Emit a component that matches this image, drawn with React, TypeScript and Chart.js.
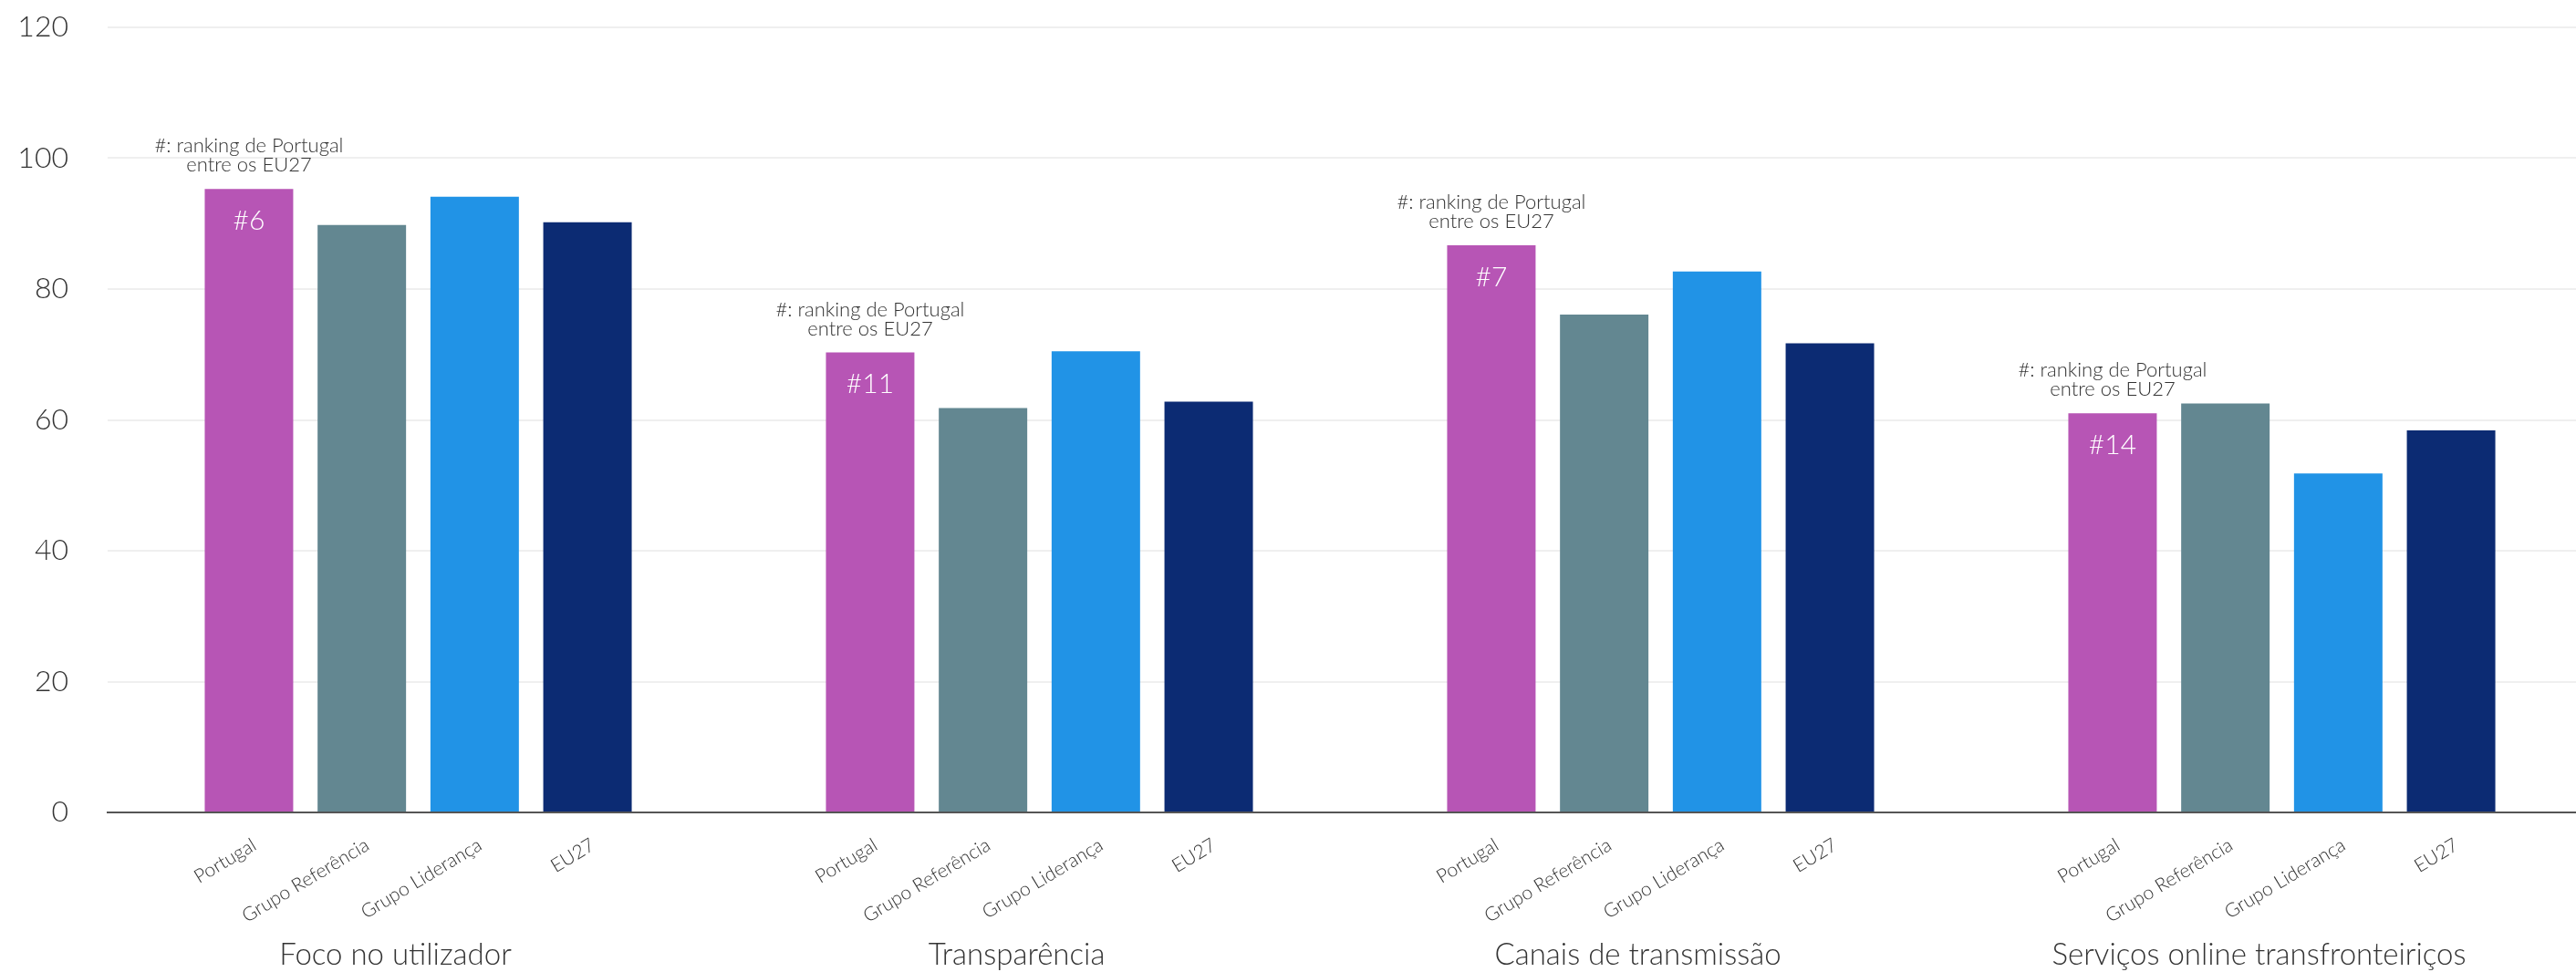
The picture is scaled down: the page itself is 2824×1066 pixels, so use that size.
import React, { useEffect, useRef } from "react";
import { Chart, registerables } from "chart.js";

Chart.register(...registerables);

const categories = [
  "Foco no utilizador",
  "Transparência",
  "Canais de transmissão",
  "Serviços online transfronteiriços",
];
const seriesNames = ["Portugal", "Grupo Referência", "Grupo Liderança", "EU27"];
const portugal = [95.3, 70.3, 86.7, 61.0];
const grupoReferencia = [89.8, 61.8, 76.1, 62.5];
const grupoLideranca = [94.1, 70.5, 82.7, 51.8];
const eu27 = [90.2, 62.8, 71.7, 58.4];
const rankings = ["#6", "#11", "#7", "#14"];
const annotationLines = ["#: ranking de Portugal", "entre os EU27"];
const yMin = 0;
const yMax = 120;
const yStep = 20;

const colors = ["#B755B5", "#638791", "#2193E6", "#0C2B73"];
const FONT = "Lato, 'Open Sans', sans-serif";

const labelsPlugin = {
  id: "customLabels",
  afterDatasetsDraw(chart: any) {
    const { ctx } = chart;
    const xScale = chart.scales.x;
    ctx.save();
    // rotated series labels under each bar
    chart.data.datasets.forEach((ds: any, di: number) => {
      const meta = chart.getDatasetMeta(di);
      meta.data.forEach((bar: any) => {
        ctx.save();
        ctx.translate(bar.x + 6, chart.chartArea.bottom + 34);
        ctx.rotate((-31 * Math.PI) / 180);
        ctx.font = `300 21px ${FONT}`;
        ctx.fillStyle = "#333";
        ctx.textAlign = "right";
        ctx.textBaseline = "middle";
        ctx.fillText(ds.label, 0, 0);
        ctx.restore();
      });
    });
    // ranking + annotation on Portugal bars
    const meta0 = chart.getDatasetMeta(0);
    meta0.data.forEach((bar: any, i: number) => {
      ctx.font = `300 30px ${FONT}`;
      ctx.fillStyle = "#ffffff";
      ctx.textAlign = "center";
      ctx.textBaseline = "middle";
      ctx.fillText(rankings[i], bar.x, bar.y + 35);
      ctx.font = `300 22px ${FONT}`;
      ctx.fillStyle = "#333";
      ctx.textBaseline = "alphabetic";
      ctx.fillText(annotationLines[0], bar.x, bar.y - 40);
      ctx.fillText(annotationLines[1], bar.x, bar.y - 19);
    });
    // group labels
    categories.forEach((c, i) => {
      const x = xScale.getPixelForValue(i) - 25;
      ctx.font = `300 33px ${FONT}`;
      ctx.fillStyle = "#333";
      ctx.textAlign = "center";
      ctx.textBaseline = "middle";
      ctx.fillText(c, x, chart.chartArea.bottom + 156);
    });
    ctx.restore();
  },
};

export default function App() {
  const canvasRef = useRef<HTMLCanvasElement | null>(null);

  useEffect(() => {
    if (!canvasRef.current) return;
    const seriesValues = [portugal, grupoReferencia, grupoLideranca, eu27];
    const chart = new Chart(canvasRef.current, {
      type: "bar",
      data: {
        labels: categories,
        datasets: seriesNames.map((name, i) => ({
          label: name,
          data: seriesValues[i],
          backgroundColor: colors[i],
          borderWidth: 0,
          categoryPercentage: 0.7266,
          barPercentage: 0.784,
        })),
      },
      options: {
        animation: false,
        responsive: true,
        maintainAspectRatio: false,
        layout: { padding: { top: 30, right: 0, left: 0, bottom: 0 } },
        plugins: {
          legend: { display: false },
          tooltip: { enabled: false },
        },
        scales: {
          x: {
            grid: { display: false },
            border: { display: true, color: "#555", width: 2 },
            ticks: { display: false },
            afterFit: (scale: any) => {
              scale.height = 175;
              scale.paddingLeft = 0;
              scale.paddingRight = 0;
            },
          },
          y: {
            min: yMin,
            max: yMax,
            ticks: {
              stepSize: yStep,
              color: "#333",
              padding: 43,
              font: { family: FONT, size: 32, weight: "300" as any },
            },
            grid: { color: "#efefef", lineWidth: 2, drawTicks: false },
            border: { display: false },
            afterFit: (scale: any) => {
              scale.width = 118;
              scale.paddingTop = 0;
              scale.paddingBottom = 0;
            },
          },
        },
      },
      plugins: [labelsPlugin],
    });
    return () => chart.destroy();
  }, []);

  return (
    <div
      style={{
        position: "fixed",
        left: 0,
        top: 0,
        width: 2824,
        height: 1066,
        overflow: "hidden",
        background: "#fff",
      }}
    >
      <div style={{ position: "relative", width: 2842, height: 1066 }}>
        <canvas ref={canvasRef} />
      </div>
    </div>
  );
}
